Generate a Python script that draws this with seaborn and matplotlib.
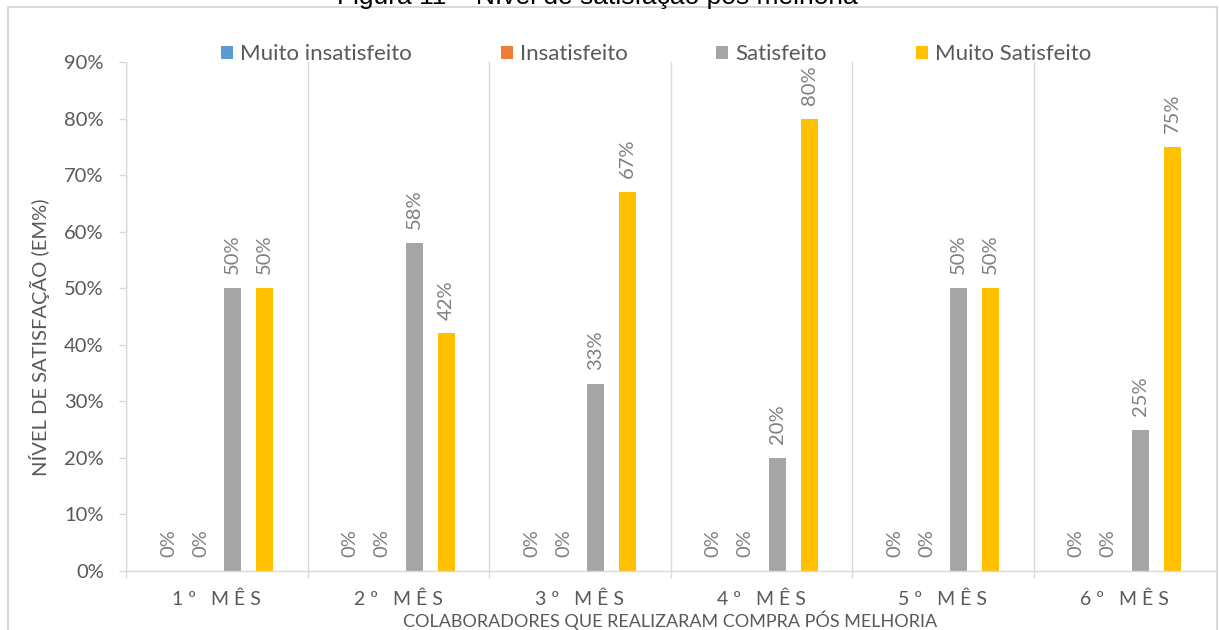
import numpy as np
import pandas as pd
import matplotlib
matplotlib.use("Agg")
import matplotlib.pyplot as plt
import seaborn as sns
from matplotlib.patches import Rectangle
from matplotlib.ticker import FuncFormatter, FixedLocator

# ---- data ----
months = ["1º MÊS", "2º MÊS", "3º MÊS", "4º MÊS", "5º MÊS", "6º MÊS"]
levels = ["Muito insatisfeito", "Insatisfeito", "Satisfeito", "Muito Satisfeito"]
muito_insatisfeito = [0, 0, 0, 0, 0, 0]
insatisfeito = [0, 0, 0, 0, 0, 0]
satisfeito = [50, 58, 33, 20, 50, 25]
muito_satisfeito = [50, 42, 67, 80, 50, 75]
yticks = [0, 10, 20, 30, 40, 50, 60, 70, 80, 90]
title = "Figura 11 – Nível de satisfação pós melhoria"
xlabel = "COLABORADORES QUE REALIZARAM COMPRA PÓS MELHORIA"
ylabel = "NÍVEL DE SATISFAÇÃO (EM%)"

colors = ["#5B9BD5", "#ED7D31", "#A5A5A5", "#FFC000"]

rows = []
for lvl, vals in zip(levels, [muito_insatisfeito, insatisfeito, satisfeito, muito_satisfeito]):
    for m, v in zip(months, vals):
        rows.append({"mes": m, "nivel": lvl, "valor": v})
df = pd.DataFrame(rows)

sns.set_theme(style="white")
plt.rcParams["font.family"] = ["Lato", "DejaVu Sans"]

W, H = 1219, 630
fig = plt.figure(figsize=(W / 100, H / 100), dpi=100)
ax_l, ax_r, ax_t, ax_b = 126, 1215, 62, 571
ax = fig.add_axes([ax_l / W, 1 - ax_b / H, (ax_r - ax_l) / W, (ax_b - ax_t) / H])

sns.barplot(data=df, x="mes", y="valor", hue="nivel", order=months, hue_order=levels,
            palette=colors, width=0.705, gap=0.48, saturation=1, linewidth=0,
            errorbar=None, ax=ax)

for c in ax.containers:
    ax.bar_label(c, labels=[f"{v:.0f}%" for v in c.datavalues], padding=10,
                 rotation=90, color="#7f7f7f", fontsize=14.5)

ax.set_xlim(-0.5, len(months) - 0.5)
ax.set_ylim(0, 90)
ax.set_yticks(yticks)
ax.yaxis.set_major_formatter(FuncFormatter(lambda v, p: f"{v:.0f}%"))
ax.set_xticks(range(len(months)))
ax.set_xticklabels([" ".join(list(m)) for m in months])

ax.xaxis.set_minor_locator(FixedLocator([i - 0.5 for i in range(len(months))]))
ax.tick_params(axis="x", which="major", length=0, pad=14, labelsize=14, labelcolor="#595959")
ax.tick_params(axis="x", which="minor", bottom=True, length=5, width=1, color="#d9d9d9", direction="out")
ax.tick_params(axis="y", left=True, length=5, width=1, color="#d9d9d9", direction="out",
               pad=11, labelsize=14.5, labelcolor="#595959")
ax.grid(False)
ax.grid(True, which="minor", axis="x", color="#d9d9d9", linewidth=1)

for s in ["top", "right"]:
    ax.spines[s].set_visible(False)
for s in ["left", "bottom"]:
    ax.spines[s].set_color("#d9d9d9")
    ax.spines[s].set_linewidth(1)

ax.set_xlabel(xlabel, fontsize=13, color="#595959")
ax.xaxis.set_label_coords(0.5, -(620 - ax_b) / (ax_b - ax_t))
ax.xaxis.label.set_verticalalignment("center")
ax.set_ylabel(ylabel, fontsize=14.5, color="#595959")
ax.yaxis.set_label_coords((40 - ax_l) / (ax_r - ax_l), (ax_b - 337) / (ax_b - ax_t))
ax.yaxis.label.set_verticalalignment("center")

handles, labels = ax.get_legend_handles_labels()
if ax.get_legend() is not None:
    ax.get_legend().remove()
fig.legend(handles, labels, loc="center", bbox_to_anchor=(656 / W, 1 - 54 / H), ncol=4,
           frameon=False, fontsize=16, handlelength=0.54, handleheight=0.54,
           handletextpad=0.32, columnspacing=4.0, labelcolor="#595959")

fig.text(597 / W, 1 - 4 / H, title, ha="center", va="baseline", fontsize=19,
         family=["Liberation Sans", "DejaVu Sans"], color="black")

fig.add_artist(Rectangle((8 / W, -0.05), (1217 - 8) / W, 1 - 7 / H + 0.05,
                         transform=fig.transFigure, fill=False, edgecolor="#d9d9d9",
                         linewidth=1.5))

fig.savefig("out.png", dpi=100)
